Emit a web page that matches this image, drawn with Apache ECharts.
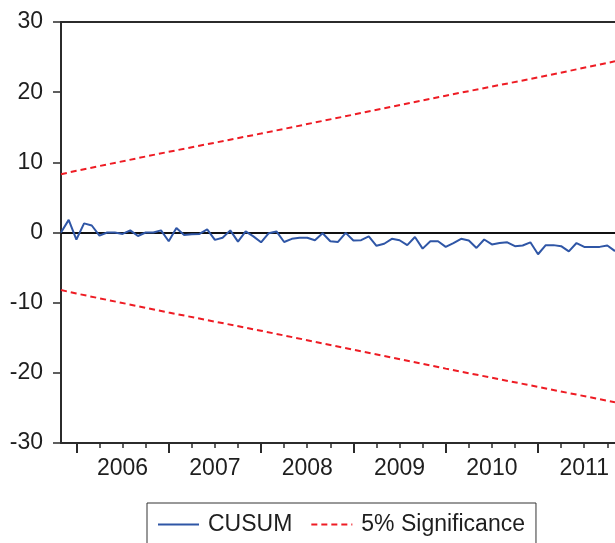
<!DOCTYPE html>
<html>
<head>
<meta charset="utf-8">
<script src="https://cdn.jsdelivr.net/npm/echarts@6/dist/echarts.min.js"></script>
<style>
  html, body { margin: 0; padding: 0; background: #ffffff; }
  #chart { width: 615px; height: 543px; }
</style>
</head>
<body>
<div id="chart"></div>
<script>
// Monthly sample: 2005M11 .. 2011M11
const startYear = 2005;
const startMonth = 11;
const periodCount = 73;

// Recursive residual CUSUM statistic, one value per month
const cusum = [
  0.0, 1.8, -1.0, 1.3, 1.0, -0.45, 0.0, 0.0, -0.2, 0.3,
  -0.5, 0.0, 0.0, 0.3, -1.25, 0.65, -0.35, -0.25, -0.2, 0.45,
  -1.05, -0.75, 0.3, -1.3, 0.15, -0.55, -1.4, -0.1, 0.15, -1.35,
  -0.9, -0.75, -0.75, -1.1, -0.1, -1.25, -1.35, -0.05, -1.15, -1.1,
  -0.55, -1.9, -1.6, -0.9, -1.1, -1.8, -0.65, -2.3, -1.25, -1.25,
  -2.05, -1.5, -0.9, -1.15, -2.2, -1.0, -1.7, -1.5, -1.4, -1.95,
  -1.85, -1.4, -3.1, -1.8, -1.8, -1.95, -2.7, -1.5, -2.05, -2.05,
  -2.05, -1.85, -2.65
];

// 5% significance bounds, read at the first month, each January and the last month
const boundIndex = [0, 2, 14, 26, 38, 50, 62, 72];
const upperBound = [8.3, 8.8, 11.5, 14.1, 16.8, 19.5, 22.1, 24.4];
const lowerBound = [-8.2, -8.7, -11.4, -14.0, -16.7, -19.4, -22.0, -24.2];

// Axis labels
const yearLabels = ['2006', '2007', '2008', '2009', '2010', '2011'];
const yTicks = { min: -30, max: 30, step: 10 };

// Build month categories like "2006M01"
const months = [];
for (let i = 0; i < periodCount; i++) {
  const m0 = startMonth - 1 + i;
  const y = startYear + Math.floor(m0 / 12);
  const m = (m0 % 12) + 1;
  months.push(y + 'M' + (m < 10 ? '0' + m : m));
}
const monthOf = (idx) => parseInt(months[idx].split('M')[1], 10);
const yearOf = (idx) => months[idx].split('M')[0];

// Sparse series for the bounds; the line connects the read points
function sparse(idx, vals) {
  const arr = new Array(periodCount).fill(null);
  idx.forEach((k, j) => { arr[k] = vals[j]; });
  return arr;
}

const axisColor = '#2b2b2b';
const textColor = '#1e1e1e';
const fontFamily = '"Liberation Sans", Arial, sans-serif';
const fontSize = 23;
const blue = '#2f56a6';
const red = '#ee1c24';

const chart = echarts.init(document.getElementById('chart'), null, { renderer: 'canvas' });

chart.setOption({
  animation: false,
  backgroundColor: '#ffffff',
  grid: { left: 61, top: 22, right: 0, bottom: 100, containLabel: false },
  legend: {
    data: ['CUSUM', '5% Significance'],
    left: 147,
    top: 503,
    orient: 'horizontal',
    itemWidth: 41,
    itemHeight: 14,
    itemGap: 18,
    padding: [10, 11, 10, 10],
    borderColor: '#333333',
    borderWidth: 1,
    borderRadius: 0,
    itemStyle: { opacity: 0 },
    textStyle: { fontFamily, fontSize, color: textColor, padding: [0, 0, 0, 4] },
    selectedMode: false
  },
  xAxis: [
    {
      // main axis: baseline and January ticks
      type: 'category',
      data: months,
      boundaryGap: false,
      position: 'bottom',
      axisLine: { show: true, onZero: false, lineStyle: { color: axisColor, width: 2 } },
      axisTick: {
        show: true, inside: false, length: 10,
        interval: (idx) => monthOf(idx) === 1,
        lineStyle: { color: axisColor, width: 2 }
      },
      axisLabel: { show: false },
      splitLine: { show: false }
    },
    {
      // quarter ticks and year labels centred in each year
      type: 'category',
      data: months,
      boundaryGap: false,
      position: 'bottom',
      axisLine: { show: false, onZero: false },
      axisTick: {
        show: true, inside: false, length: 5,
        interval: (idx) => [4, 7, 10].indexOf(monthOf(idx)) >= 0,
        lineStyle: { color: axisColor, width: 1.5 }
      },
      axisLabel: {
        show: true,
        margin: 14,
        interval: (idx) => monthOf(idx) === 7 && yearLabels.indexOf(yearOf(idx)) >= 0,
        formatter: (val) => val.split('M')[0],
        fontFamily, fontSize, color: textColor
      },
      splitLine: { show: false }
    },
    {
      // frame line along the top
      type: 'category',
      data: months,
      boundaryGap: false,
      position: 'top',
      axisLine: { show: true, onZero: false, lineStyle: { color: axisColor, width: 2 } },
      axisTick: { show: false },
      axisLabel: { show: false },
      splitLine: { show: false }
    }
  ],
  yAxis: {
    type: 'value',
    min: yTicks.min,
    max: yTicks.max,
    interval: yTicks.step,
    axisLine: { show: true, onZero: false, lineStyle: { color: axisColor, width: 2 } },
    axisTick: { show: true, inside: false, length: 8, lineStyle: { color: axisColor, width: 1.5 } },
    axisLabel: { margin: 18, fontFamily, fontSize, color: textColor },
    splitLine: { show: false }
  },
  series: [
    {
      name: 'CUSUM',
      type: 'line',
      xAxisIndex: 0,
      data: cusum,
      symbol: 'none',
      z: 5,
      lineStyle: { color: blue, width: 2 },
      itemStyle: { color: blue }
    },
    {
      name: '5% Significance',
      type: 'line',
      xAxisIndex: 0,
      data: sparse(boundIndex, upperBound),
      connectNulls: true,
      symbol: 'none',
      z: 3,
      lineStyle: { color: red, width: 2, type: [6, 4] },
      itemStyle: { color: red },
      markLine: {
        silent: true,
        symbol: 'none',
        label: { show: false },
        lineStyle: { color: '#111111', width: 2, type: 'solid' },
        data: [{ yAxis: 0 }]
      }
    },
    {
      name: '5% Significance',
      type: 'line',
      xAxisIndex: 0,
      data: sparse(boundIndex, lowerBound),
      connectNulls: true,
      symbol: 'none',
      z: 3,
      lineStyle: { color: red, width: 2, type: [6, 4] },
      itemStyle: { color: red }
    }
  ]
});
</script>
</body>
</html>
